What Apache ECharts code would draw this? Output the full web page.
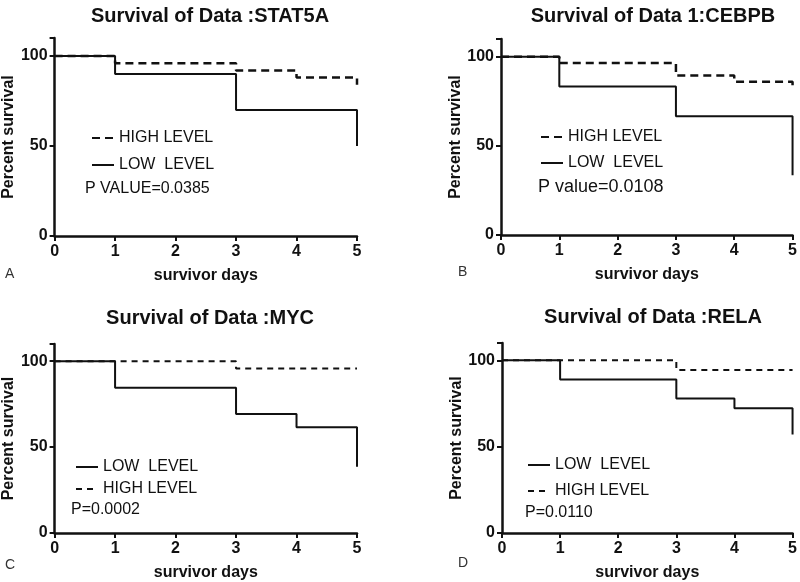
<!DOCTYPE html>
<html>
<head>
<meta charset="utf-8">
<script src="https://cdn.jsdelivr.net/npm/echarts@6/dist/echarts.min.js"></script>
<style>
  html, body { margin: 0; padding: 0; background: #fff; }
  #main { width: 800px; height: 582px; }
</style>
</head>
<body>
<div id="main"></div>
<script>
// survival curves, [day, percent] at each step
var days = [0, 1, 2, 3, 4, 5];
var yTicks = [0, 50, 100];

var highA = [[0, 100], [1, 96], [3, 92], [4, 88], [5, 84]];
var lowA  = [[0, 100], [1, 90], [3, 70], [5, 50]];
var highB = [[0, 100], [1, 96.5], [3, 89.5], [4, 86], [5, 83]];
var lowB  = [[0, 100], [1, 83.3], [3, 66.7], [5, 33.5]];
var highC = [[0, 100], [3, 95.7], [5, 95.7]];
var lowC  = [[0, 100], [1, 84.6], [3, 69.2], [4, 61.5], [5, 38.5]];
var highD = [[0, 100], [3, 94.4], [5, 94.4]];
var lowD  = [[0, 100], [1, 88.9], [3, 77.8], [4, 72.2], [5, 57]];

var titles = ['Survival of Data :STAT5A', 'Survival of Data 1:CEBPB', 'Survival of Data :MYC', 'Survival of Data :RELA'];
var pTexts = ['P VALUE=0.0385', 'P value=0.0108', 'P=0.0002', 'P=0.0110'];
var letters = ['A', 'B', 'C', 'D'];

var myChart = echarts.init(document.getElementById('main'));

var grids = [
  { left: 54, right: 443, top: 38, bottom: 346 },
  { left: 501, right: 6, top: 39, bottom: 347 },
  { left: 53, right: 443, top: 344, bottom: 49 },
  { left: 502, right: 6, top: 343, bottom: 49 }
];

function xAxisFor(i) {
  return {
    type: 'value', gridIndex: i, min: 0, max: 5, interval: 1,
    name: 'survivor days', nameLocation: 'middle', nameGap: 32,
    nameTextStyle: { fontFamily: 'Liberation Sans', fontWeight: 'bold', fontSize: 16, color: '#111' },
    axisLine: { show: true, onZero: false, lineStyle: { color: '#111', width: 2.5 } },
    axisTick: { show: true, inside: false, length: 5, lineStyle: { color: '#111', width: 2 } },
    axisLabel: { margin: 8, fontFamily: 'Liberation Sans', fontWeight: 'bold', fontSize: 16, color: '#111' },
    splitLine: { show: false }
  };
}
function yAxisFor(i) {
  return {
    type: 'value', gridIndex: i, min: 0, max: 110, interval: 50,
    name: 'Percent survival', nameLocation: 'middle', nameGap: 36,
    nameTextStyle: { fontFamily: 'Liberation Sans', fontWeight: 'bold', fontSize: 16, color: '#111' },
    axisLine: { show: true, onZero: false, lineStyle: { color: '#111', width: 2.5 } },
    axisTick: { show: true, inside: false, length: 5, lineStyle: { color: '#111', width: 2 } },
    axisLabel: { margin: 7, fontFamily: 'Liberation Sans', fontWeight: 'bold', fontSize: 16, color: '#111',
      formatter: function (v) { return yTicks.indexOf(v) >= 0 ? String(v) : ''; } },
    splitLine: { show: false }
  };
}

var heavyDash = { color: '#111', width: 2.5, type: [8, 5] };
var lightDash = { color: '#111', width: 2, type: [6, 5] };
var solid = { color: '#111', width: 2, type: 'solid' };

function stepSeries(name, idx, data, ls) {
  return {
    name: name, type: 'line', step: 'end', xAxisIndex: idx, yAxisIndex: idx,
    data: data, symbol: 'none', showSymbol: false, lineStyle: ls, itemStyle: { color: '#111' },
    silent: true, animation: false, z: 3
  };
}

var series = [
  stepSeries('HIGH LEVEL|A', 0, highA, heavyDash),
  stepSeries('LOW  LEVEL|A', 0, lowA, solid),
  stepSeries('HIGH LEVEL|B', 1, highB, heavyDash),
  stepSeries('LOW  LEVEL|B', 1, lowB, solid),
  stepSeries('LOW  LEVEL|C', 2, lowC, solid),
  stepSeries('HIGH LEVEL|C', 2, highC, lightDash),
  stepSeries('LOW  LEVEL|D', 3, lowD, solid),
  stepSeries('HIGH LEVEL|D', 3, highD, lightDash)
];

var legendText = { fontFamily: 'Liberation Sans', fontSize: 16, color: '#111' };
function legendFor(names, left, top, gap) {
  return {
    data: names, orient: 'vertical', left: left, top: top, itemGap: gap,
    itemWidth: 22, itemHeight: 10, textStyle: legendText, selectedMode: false,
    itemStyle: { opacity: 0 },
    formatter: function (n) { return n.split('|')[0]; }
  };
}

var titleOpts = [];
var centers = [[205, 1], [648, 1], [205, 303], [648, 302]];
for (var i = 0; i < 4; i++) {
  titleOpts.push({
    text: titles[i], left: centers[i][0], top: centers[i][1], textAlign: 'center',
    textStyle: { fontFamily: 'Liberation Sans', fontWeight: 'bold', fontSize: 20, color: '#111' }
  });
}

var pPos = [[85, 189, 16], [538, 187, 18], [71, 510, 16], [525, 513, 16]];
var letterPos = [[10, 275], [463, 273], [10, 566], [463, 564]];
var graphics = [];
for (var j = 0; j < 4; j++) {
  graphics.push({
    type: 'text', left: pPos[j][0], top: pPos[j][1] - pPos[j][2] / 2,
    style: { text: pTexts[j], font: pPos[j][2] + 'px "Liberation Sans"', fill: '#111' }
  });
  graphics.push({
    type: 'text', left: letterPos[j][0] - 5, top: letterPos[j][1] - 8,
    style: { text: letters[j], font: '14px "Liberation Sans"', fill: '#333' }
  });
}

option = {
  backgroundColor: '#fff',
  animation: false,
  title: titleOpts,
  grid: grids,
  xAxis: [xAxisFor(0), xAxisFor(1), xAxisFor(2), xAxisFor(3)],
  yAxis: [yAxisFor(0), yAxisFor(1), yAxisFor(2), yAxisFor(3)],
  legend: [
    legendFor(['HIGH LEVEL|A', 'LOW  LEVEL|A'], 86, 125, 11),
    legendFor(['HIGH LEVEL|B', 'LOW  LEVEL|B'], 535, 124, 10),
    legendFor(['LOW  LEVEL|C', 'HIGH LEVEL|C'], 70, 454, 6),
    legendFor(['LOW  LEVEL|D', 'HIGH LEVEL|D'], 522, 452, 10)
  ],
  graphic: graphics,
  series: series
};
myChart.setOption(option);
</script>
</body>
</html>
